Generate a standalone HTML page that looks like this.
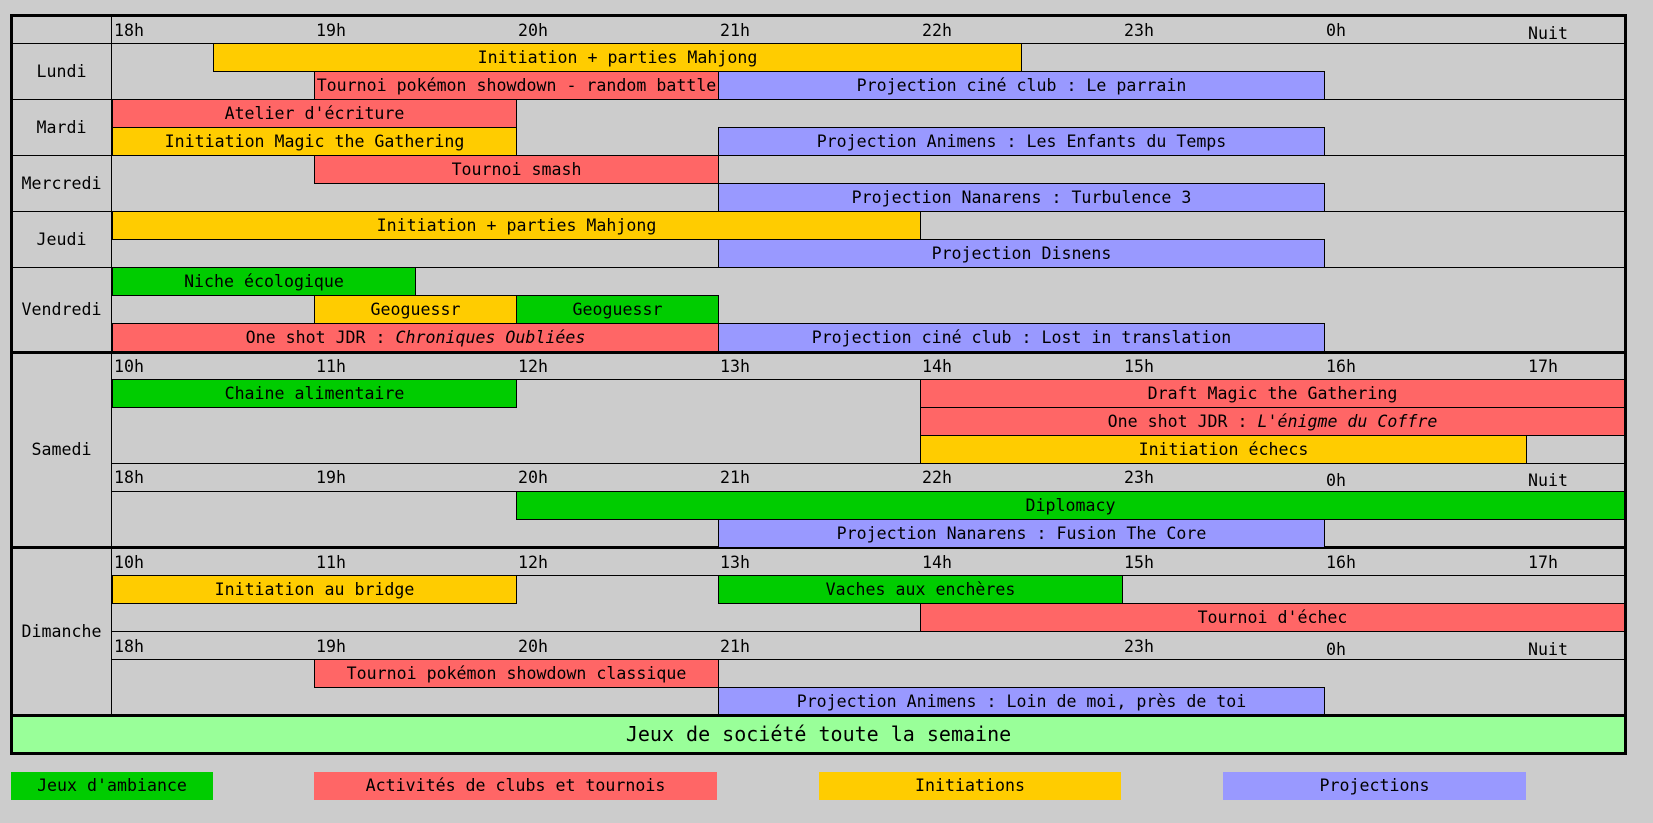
<!DOCTYPE html>
<html><head><meta charset="utf-8"><style>
body{margin:0;width:1653px;height:823px;background:#cccccc;position:relative;overflow:hidden;font-family:"DejaVu Sans Mono","Liberation Mono",monospace;font-size:16.6px;color:#000}
div{position:absolute;box-sizing:border-box}
.b{height:29px;border:1px solid #000;text-align:center;line-height:27px;white-space:nowrap;overflow:hidden}
.y{background:#ffcc00}.r{background:#ff6666}.p{background:#9999ff}.g{background:#00cc00}
.h{height:1px;background:#000;left:112px;width:1512px}
.d{height:1px;background:#000;left:12px;width:1612px}
.t{font-size:16.6px;line-height:20px}
.day{left:12px;width:99px;text-align:center;line-height:20px}
.lg{height:28px;top:772px;text-align:center;line-height:28px}
</style></head><body>
<div style="left:10px;top:14px;width:1617px;height:741px;border:3px solid #000"></div>
<div style="left:111px;top:14px;width:1px;height:701px;background:#000"></div>

<div class="t" style="left:114px;top:21px">18h</div>
<div class="t" style="left:316px;top:21px">19h</div>
<div class="t" style="left:518px;top:21px">20h</div>
<div class="t" style="left:720px;top:21px">21h</div>
<div class="t" style="left:922px;top:21px">22h</div>
<div class="t" style="left:1124px;top:21px">23h</div>
<div class="t" style="left:1326px;top:21px">0h</div>
<div class="t" style="left:1528px;top:24px">Nuit</div>

<div class="d" style="top:43px"></div>
<div class="d" style="top:99px"></div>
<div class="d" style="top:155px"></div>
<div class="d" style="top:211px"></div>
<div class="d" style="top:267px"></div>
<div class="d" style="top:351px;height:3px"></div>
<div class="h" style="top:379px"></div>
<div class="h" style="top:463px"></div>
<div class="h" style="top:491px"></div>
<div class="d" style="top:546px;height:3px"></div>
<div class="h" style="top:575px"></div>
<div class="h" style="top:631px"></div>
<div class="h" style="top:659px"></div>

<div class="day" style="top:62px">Lundi</div>
<div class="day" style="top:118px">Mardi</div>
<div class="day" style="top:174px">Mercredi</div>
<div class="day" style="top:230px">Jeudi</div>
<div class="day" style="top:300px">Vendredi</div>
<div class="day" style="top:440px">Samedi</div>
<div class="day" style="top:622px">Dimanche</div>

<div class="b y" style="left:213px;top:43px;width:809px">Initiation + parties Mahjong</div>
<div class="b r" style="left:314px;top:71px;width:405px">Tournoi pokémon showdown - random battle</div>
<div class="b p" style="left:718px;top:71px;width:607px">Projection ciné club : Le parrain</div>
<div class="b r" style="left:112px;top:99px;width:405px">Atelier d'écriture</div>
<div class="b y" style="left:112px;top:127px;width:405px">Initiation Magic the Gathering</div>
<div class="b p" style="left:718px;top:127px;width:607px">Projection Animens : Les Enfants du Temps</div>
<div class="b r" style="left:314px;top:155px;width:405px">Tournoi smash</div>
<div class="b p" style="left:718px;top:183px;width:607px">Projection Nanarens : Turbulence 3</div>
<div class="b y" style="left:112px;top:211px;width:809px">Initiation + parties Mahjong</div>
<div class="b p" style="left:718px;top:239px;width:607px">Projection Disnens</div>
<div class="b g" style="left:112px;top:267px;width:304px">Niche écologique</div>
<div class="b y" style="left:314px;top:295px;width:203px">Geoguessr</div>
<div class="b g" style="left:516px;top:295px;width:203px">Geoguessr</div>
<div class="b r" style="left:112px;top:323px;width:607px">One shot JDR : <i>Chroniques Oubliées</i></div>
<div class="b p" style="left:718px;top:323px;width:607px">Projection ciné club : Lost in translation</div>

<div class="t" style="left:114px;top:357px">10h</div>
<div class="t" style="left:316px;top:357px">11h</div>
<div class="t" style="left:518px;top:357px">12h</div>
<div class="t" style="left:720px;top:357px">13h</div>
<div class="t" style="left:922px;top:357px">14h</div>
<div class="t" style="left:1124px;top:357px">15h</div>
<div class="t" style="left:1326px;top:357px">16h</div>
<div class="t" style="left:1528px;top:357px">17h</div>
<div class="b g" style="left:112px;top:379px;width:405px">Chaine alimentaire</div>
<div class="b r" style="left:920px;top:379px;width:705px">Draft Magic the Gathering</div>
<div class="b r" style="left:920px;top:407px;width:705px">One shot JDR : <i>L'énigme du Coffre</i></div>
<div class="b y" style="left:920px;top:435px;width:607px">Initiation échecs</div>
<div class="t" style="left:114px;top:468px">18h</div>
<div class="t" style="left:316px;top:468px">19h</div>
<div class="t" style="left:518px;top:468px">20h</div>
<div class="t" style="left:720px;top:468px">21h</div>
<div class="t" style="left:922px;top:468px">22h</div>
<div class="t" style="left:1124px;top:468px">23h</div>
<div class="t" style="left:1326px;top:471px">0h</div>
<div class="t" style="left:1528px;top:471px">Nuit</div>
<div class="b g" style="left:516px;top:491px;width:1109px">Diplomacy</div>
<div class="b p" style="left:718px;top:519px;width:607px">Projection Nanarens : Fusion The Core</div>

<div class="t" style="left:114px;top:553px">10h</div>
<div class="t" style="left:316px;top:553px">11h</div>
<div class="t" style="left:518px;top:553px">12h</div>
<div class="t" style="left:720px;top:553px">13h</div>
<div class="t" style="left:922px;top:553px">14h</div>
<div class="t" style="left:1124px;top:553px">15h</div>
<div class="t" style="left:1326px;top:553px">16h</div>
<div class="t" style="left:1528px;top:553px">17h</div>
<div class="b y" style="left:112px;top:575px;width:405px">Initiation au bridge</div>
<div class="b g" style="left:718px;top:575px;width:405px">Vaches aux enchères</div>
<div class="b r" style="left:920px;top:603px;width:705px">Tournoi d'échec</div>
<div class="t" style="left:114px;top:637px">18h</div>
<div class="t" style="left:316px;top:637px">19h</div>
<div class="t" style="left:518px;top:637px">20h</div>
<div class="t" style="left:720px;top:637px">21h</div>
<div class="t" style="left:1124px;top:637px">23h</div>
<div class="t" style="left:1326px;top:640px">0h</div>
<div class="t" style="left:1528px;top:640px">Nuit</div>
<div class="b r" style="left:314px;top:659px;width:405px">Tournoi pokémon showdown classique</div>
<div class="b p" style="left:718px;top:687px;width:607px">Projection Animens : Loin de moi, près de toi</div>

<div style="left:10px;top:714px;width:1617px;height:41px;border:3px solid #000;background:#99ff99;text-align:center;line-height:35px;font-size:20px">Jeux de société toute la semaine</div>

<div class="lg g" style="left:11px;width:202px">Jeux d'ambiance</div>
<div class="lg r" style="left:314px;width:403px">Activités de clubs et tournois</div>
<div class="lg y" style="left:819px;width:302px">Initiations</div>
<div class="lg p" style="left:1223px;width:303px">Projections</div>
</body></html>
